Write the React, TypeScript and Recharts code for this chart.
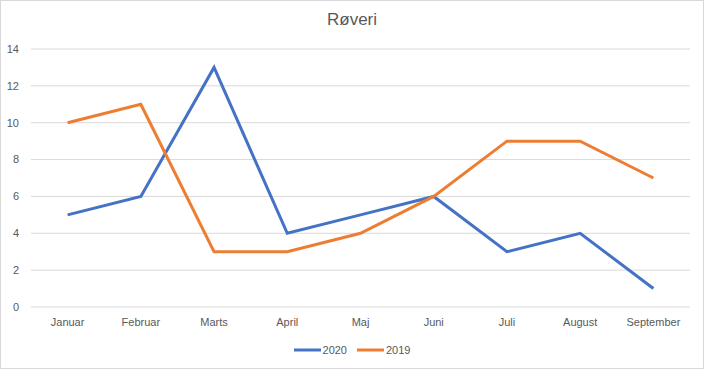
import { LineChart, Line, XAxis, YAxis, CartesianGrid } from "recharts";

const months = ["Januar", "Februar", "Marts", "April", "Maj", "Juni", "Juli", "August", "September"];
const values2020 = [5, 6, 13, 4, 5, 6, 3, 4, 1];
const values2019 = [10, 11, 3, 3, 4, 6, 9, 9, 7];
const yTicks = [0, 2, 4, 6, 8, 10, 12, 14];

const data = months.map((m, i) => ({ month: m, y2020: values2020[i], y2019: values2019[i] }));

const BLUE = "#4472C4";
const ORANGE = "#ED7D31";
const TEXT = "#595959";
const FONT = "'Liberation Sans', Arial, sans-serif";

const legendItems = [
  { name: "2020", color: BLUE },
  { name: "2019", color: ORANGE },
];

export default function App() {
  return (
    <div
      style={{
        position: "relative",
        width: 704,
        height: 369,
        boxSizing: "border-box",
        border: "1px solid #d9d9d9",
        background: "#fff",
      }}
    >
      <style>{"body{margin:0}"}</style>
      <div
        style={{
          position: "absolute",
          top: 9,
          left: 0,
          width: "100%",
          textAlign: "center",
          fontFamily: FONT,
          fontSize: 17,
          color: TEXT,
        }}
      >
        Røveri
      </div>
      <LineChart
        width={702}
        height={367}
        data={data}
        margin={{ top: 48, right: 13, left: 0, bottom: 31 }}
        style={{ position: "absolute", top: 0, left: 0 }}
      >
        <CartesianGrid vertical={false} stroke="#d9d9d9" strokeWidth={1} />
        <XAxis
          dataKey="month"
          axisLine={false}
          tickLine={false}
          tickMargin={5}
          interval={0}
          padding={{ left: 36.6, right: 36.6 }}
          tick={{ fill: TEXT, fontSize: 11, fontFamily: FONT }}
        />
        <YAxis
          width={30}
          domain={[0, 14]}
          ticks={yTicks}
          axisLine={false}
          tickLine={false}
          tickMargin={6}
          tick={{ fill: TEXT, fontSize: 11, fontFamily: FONT }}
        />
        <Line
          dataKey="y2020"
          name="2020"
          stroke={BLUE}
          strokeWidth={3}
          dot={false}
          isAnimationActive={false}
        />
        <Line
          dataKey="y2019"
          name="2019"
          stroke={ORANGE}
          strokeWidth={3}
          dot={false}
          isAnimationActive={false}
        />
      </LineChart>
      <div
        style={{
          position: "absolute",
          top: 341,
          left: 0,
          width: "100%",
          display: "flex",
          justifyContent: "center",
          gap: 10,
          fontFamily: FONT,
          fontSize: 11,
          color: TEXT,
          lineHeight: "16px",
        }}
      >
        {legendItems.map((it) => (
          <div key={it.name} style={{ display: "flex", alignItems: "center" }}>
            <svg width={27} height={6} style={{ marginRight: 2 }}>
              <line x1={0} y1={3} x2={27} y2={3} stroke={it.color} strokeWidth={3} />
            </svg>
            <span>{it.name}</span>
          </div>
        ))}
      </div>
    </div>
  );
}
